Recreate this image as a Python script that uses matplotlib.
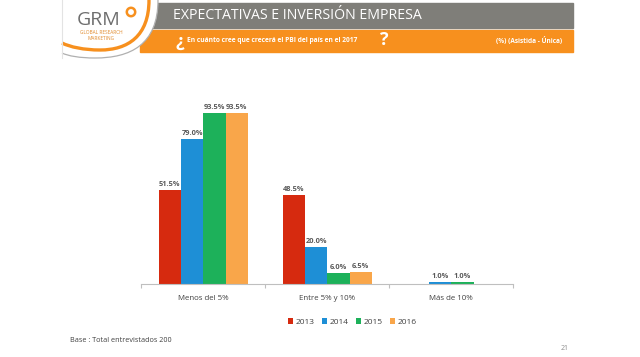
import matplotlib
matplotlib.use("Agg")
import matplotlib.pyplot as plt
from matplotlib.patches import Rectangle, Circle, PathPatch
from matplotlib.path import Path
import numpy as np

categories = ["Menos del 5%", "Entre 5% y 10%", "Más de 10%"]
years = ["2013", "2014", "2015", "2016"]
v2013 = [51.5, 48.5, 0.0]
v2014 = [79.0, 20.0, 1.0]
v2015 = [93.5, 6.0, 1.0]
v2016 = [93.5, 6.5, 0.0]
series = [v2013, v2014, v2015, v2016]
colors = ["#D62A0F", "#1E8FD6", "#1DB15A", "#F9A64A"]

title = "EXPECTATIVAS E INVERSIÓN EMPRESA"
subtitle = "En cuánto cree que crecerá el PBI del país en el 2017"
note = "(%) (Asistida - Única)"
base = "Base : Total entrevistados 200"
page = "21"

W, H = 640, 357
fig = plt.figure(figsize=(W / 100, H / 100), dpi=100)
plt.rcParams['font.family'] = ['Open Sans', 'DejaVu Sans']

def fx(x):
    return x / W

def fy(y):
    return 1 - y / H

# ---------- header ----------
hdr = fig.add_axes([0, 0, 1, 1], facecolor="none")
hdr.set_xlim(0, W)
hdr.set_ylim(H, 0)
hdr.axis("off")
hdr.add_patch(Rectangle((140, 3), 573 - 140, 25, color="#7F7E79", zorder=1))
hdr.add_patch(Rectangle((140, 30), 573 - 140, 22, color="#F7901E", zorder=1))

C = Path.CURVE4
outer_v = [(158, 0), (158, 45), (130, 58), (95, 58), (80, 58), (68, 56), (62, 53)]
outer_c = [Path.MOVETO, C, C, C, C, C, C]
white_v = outer_v + [(62, 0), (158, 0)]
white_c = outer_c + [Path.LINETO, Path.CLOSEPOLY]
hdr.add_patch(PathPatch(Path(white_v, white_c), fc="white", ec="none", zorder=2))
hdr.add_patch(PathPatch(Path(outer_v, outer_c), fc="none", ec="#B0B0B0", lw=0.9, zorder=3))
inner_v = [(149, 0), (149, 36), (128, 50), (100, 50), (84, 50), (70, 47), (62, 43)]
hdr.add_patch(PathPatch(Path(inner_v, outer_c), fc="none", ec="#F7901E", lw=2.4, zorder=3))
hdr.plot([62, 62], [0, 58], color="#E3E3E3", lw=0.8, zorder=3)
hdr.text(99, 20, "GRM", fontsize=14, color="#6E6E6E", ha="center", va="center",
         family=["Open Sans"], zorder=4)
hdr.add_patch(Circle((131, 12), 4.2, fill=False, ec="#F7901E", lw=1.8, zorder=4))
hdr.text(101, 33, "GLOBAL RESEARCH", fontsize=3.4, color="#E0892A", ha="center", va="center", zorder=4)
hdr.text(101, 38.5, "MARKETING", fontsize=3.4, color="#E0892A", ha="center", va="center", zorder=4)

hdr.text(173, 15.5, title, fontsize=10.2, color="white", ha="left", va="center",
         family=["Open Sans"], zorder=4)
hdr.text(180, 42, "¿", fontsize=13, color="white", ha="center", va="center",
         fontweight="bold", zorder=4)
hdr.text(187, 41, subtitle, fontsize=4.8, color="white", ha="left", va="center",
         fontweight="bold", zorder=4)
hdr.text(384, 40, "?", fontsize=13, color="white", ha="center", va="center",
         fontweight="bold", zorder=4)
hdr.text(562, 41, note, fontsize=4.7, color="white", ha="right", va="center",
         fontweight="bold", zorder=4)

hdr.text(70, 340, base, fontsize=5.2, color="#404040", ha="left", va="center")
hdr.text(565, 348, page, fontsize=5, color="#8C8C8C", ha="center", va="center")

# ---------- chart ----------
ax = fig.add_axes([fx(141.3), fy(284), fx(513.3 - 141.3), 183 / H])
x = np.arange(len(categories))
bw = 0.18
offsets = (np.arange(len(years)) - 1.5) * bw
for i, (vals, c) in enumerate(zip(series, colors)):
    bars = ax.bar(x + offsets[i], vals, bw, color=c, label=years[i], zorder=2)
    for b, v in zip(bars, vals):
        if v > 0:
            ax.text(b.get_x() + b.get_width() / 2, v + 1.2, f"{v:.1f}%",
                    ha="center", va="bottom", fontsize=5.3, fontweight="bold",
                    color="#595959")

ax.set_xlim(-0.5, 2.5)
ax.set_ylim(0, 100)
for s in ["top", "right", "left"]:
    ax.spines[s].set_visible(False)
ax.spines["bottom"].set_color("#BFBFBF")
ax.spines["bottom"].set_linewidth(0.8)
ax.set_yticks([])
ax.set_xticks(x)
ax.set_xticklabels(categories, fontsize=5.7, color="#404040")
ax.tick_params(axis="x", which="major", length=0, pad=8)
ax.set_xticks([-0.5, 0.5, 1.5, 2.5], minor=True)
ax.tick_params(axis="x", which="minor", length=3, color="#BFBFBF", width=0.8)

leg = ax.legend(loc="center", bbox_to_anchor=(fx(352), fy(322)),
                bbox_transform=fig.transFigure, ncol=4, frameon=False,
                fontsize=6.0, handlelength=0.6, handleheight=0.6,
                handletextpad=0.3, columnspacing=0.9)
for t in leg.get_texts():
    t.set_color("#404040")

fig.savefig("out.png", dpi=100)
